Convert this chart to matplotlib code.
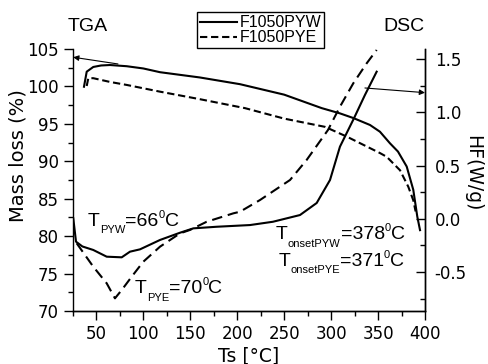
import matplotlib.pyplot as plt
import numpy as np
from matplotlib.ticker import MultipleLocator, FormatStrFormatter
from matplotlib.transforms import offset_copy

plt.rcParams['font.family'] = 'Liberation Sans'
plt.rcParams['axes.unicode_minus'] = False

# TGA curves (left axis, %)
tga_pyw_t = [36.7, 39.6, 46.6, 55, 64.4, 82.2, 99.9, 117.7, 160, 202.9, 250, 290, 309.4,
             323.6, 341.4, 352, 362.7, 371.2, 380.5, 387.5, 391.8, 394.7]
tga_pyw_m = [99.96, 101.97, 102.6, 102.8, 102.86, 102.7, 102.4, 101.9, 101.2, 100.3, 98.9,
             97.1, 96.4, 95.78, 94.85, 93.95, 92.4, 91.3, 89.3, 86.2, 82.6, 80.8]

tga_pye_t = [39.6, 41.3, 46.6, 64.4, 82.2, 117.7, 160, 208.2, 250, 293.5, 316.6, 334.3,
             352, 359.2, 373.4, 382.2, 387.5, 390]
tga_pye_m = [100.06, 101.1, 101.1, 100.6, 100.2, 99.3, 98.3, 97.1, 95.7, 94.6, 93.3, 92.2,
             91.1, 90.6, 88.8, 86.6, 84.8, 83.3]

# DSC curves (right axis, W/g)
dsc_pyw_t = [25.3, 28.2, 35, 46.6, 60.9, 76.9, 85.7, 96.4, 117.7, 139, 153.2, 178, 213.6,
             238, 266.8, 284.6, 298.8, 309.4, 324.3, 336, 348.5]
dsc_pyw_hf = [0.004, -0.215, -0.26, -0.293, -0.356, -0.362, -0.309, -0.287, -0.199, -0.131,
              -0.090, -0.075, -0.059, -0.028, 0.035, 0.148, 0.364, 0.677, 0.943, 1.162, 1.381]

dsc_pye_t = [28.9, 46.6, 60.9, 69.7, 76.9, 87.5, 99.9, 117.7, 139, 149.6, 167.4, 195.8,
             202.9, 224.2, 256.2, 273.9, 296.6, 309.4, 323.6, 337.9, 348.5]
dsc_pye_hf = [-0.230, -0.450, -0.606, -0.747, -0.669, -0.544, -0.403, -0.262, -0.137, -0.105,
              -0.028, 0.051, 0.066, 0.176, 0.364, 0.552, 0.833, 1.052, 1.272, 1.460, 1.585]

fig = plt.figure(figsize=(4.89, 3.64), dpi=100)
ax = fig.add_axes([73 / 489, 53 / 364, 352 / 489, 262 / 364])
ax2 = ax.twinx()

l1, = ax.plot(tga_pyw_t, tga_pyw_m, color='black', lw=1.5, label='F1050PYW')
l2, = ax.plot(tga_pye_t, tga_pye_m, color='black', lw=1.5, ls=(0, (3.5, 1.8)), label='F1050PYE')
ax2.plot(dsc_pyw_t, dsc_pyw_hf, color='black', lw=1.5)
ax2.plot(dsc_pye_t, dsc_pye_hf, color='black', lw=1.5, ls=(0, (5, 2.8)))

ax.set_xlim(25, 400)
ax.set_ylim(70, 105)
ax2.set_ylim(-0.866, 1.594)

for a in (ax, ax2):
    a.spines['top'].set_visible(False)
    for s in a.spines.values():
        s.set_linewidth(1.0)
ax2.spines['left'].set_visible(False)

ax.xaxis.set_major_locator(MultipleLocator(50))
ax.xaxis.set_minor_locator(MultipleLocator(25))
ax.yaxis.set_major_locator(MultipleLocator(5))
ax.yaxis.set_minor_locator(MultipleLocator(2.5))
ax2.set_yticks([-0.5, 0.0, 0.5, 1.0, 1.5])
ax2.yaxis.set_minor_locator(MultipleLocator(0.25))
ax2.yaxis.set_major_formatter(FormatStrFormatter('%.1f'))

ax.tick_params(which='major', direction='out', length=6.5, width=1, labelsize=12,
               labelfontfamily='DejaVu Sans')
ax.tick_params(which='minor', direction='out', length=3.5, width=1)
ax2.tick_params(which='major', direction='in', length=6.5, width=1, labelsize=12, pad=7,
                labelfontfamily='DejaVu Sans')
ax2.tick_params(which='minor', direction='in', length=3.5, width=1)

ax.set_xlabel('Ts [°C]', fontsize=13.5, family='DejaVu Sans')
ax.xaxis.set_label_coords(0.5, -0.135)
ax.set_ylabel('Mass loss (%)', fontsize=14, family='DejaVu Sans')
ax.yaxis.set_label_coords(-0.13, 0.595)
ax2.set_ylabel('HF(W/g)', rotation=270, va='bottom', fontsize=13.5, family='DejaVu Sans')
ax2.yaxis.set_label_coords(1.107, 0.527)

fig.text(88 / 489, 1 - 31 / 364, 'TGA', fontsize=14, ha='center', va='baseline')
fig.text(404 / 489, 1 - 31 / 364, 'DSC', fontsize=14, ha='center', va='baseline')

# arrows pointing to the axis each curve belongs to
ax.annotate('', xy=(25.2, 103.9), xytext=(72.9, 103.0), annotation_clip=False,
            arrowprops=dict(arrowstyle='-|>', lw=0.8, color='black', mutation_scale=8,
                            shrinkA=0, shrinkB=0))
ax2.annotate('', xy=(400, 1.184), xytext=(336, 1.228), annotation_clip=False,
             arrowprops=dict(arrowstyle='-|>', lw=0.8, color='black', mutation_scale=8,
                             shrinkA=0, shrinkB=0))

renderer = fig.canvas.get_renderer()


def peak_label(x, y, sub, value):
    parts = [('T', 14, 0), (sub, 8, -5.3), ('=' + value, 14, 0), ('0', 8, 6), ('C', 14, 0)]
    dx = 0
    for s, fs, dy in parts:
        tr = offset_copy(ax.transData, fig=fig, x=dx, y=dy, units='points')
        t = ax.text(x, y, s, fontsize=fs, transform=tr, va='baseline', ha='left')
        dx += t.get_window_extent(renderer).width * 72 / fig.dpi


peak_label(41, 81.36, 'PYW', '66')
peak_label(91, 72.36, 'PYE', '70')
peak_label(241.3, 79.58, 'onsetPYW', '378')
peak_label(243.7, 76.01, 'onsetPYE', '371')

fig.legend(handles=[l1, l2], loc='upper left', bbox_to_anchor=(197 / 489, 1 - 12 / 364),
           fontsize=11.5, frameon=True, fancybox=False, edgecolor='black', framealpha=1,
           handlelength=2.3, handletextpad=0.15, borderpad=0.2, labelspacing=0.0,
           borderaxespad=0)

fig.savefig('out.png', dpi=100)
